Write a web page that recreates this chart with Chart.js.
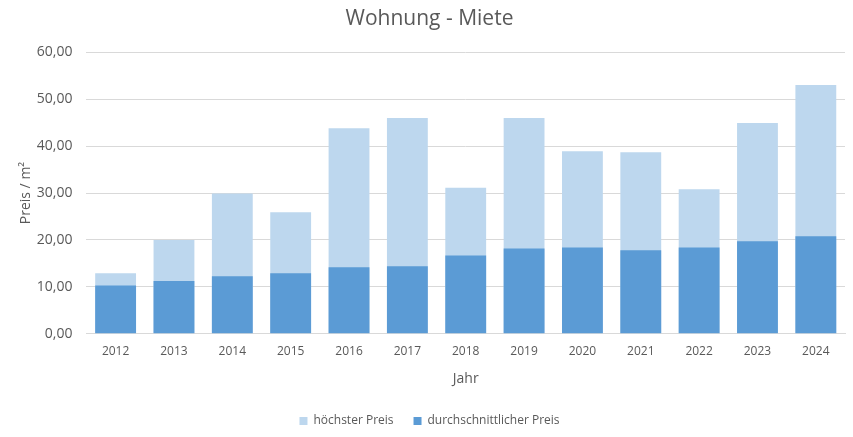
<!DOCTYPE html>
<html>
<head>
<meta charset="utf-8">
<script src="https://cdn.jsdelivr.net/npm/chart.js@4"></script>
<style>
  html, body { margin: 0; padding: 0; background: #fff; }
  #wrap { width: 853px; height: 437px; }
</style>
</head>
<body>
<div id="wrap"><canvas id="myChart"></canvas></div>
<script>
const years = ['2012', '2013', '2014', '2015', '2016', '2017', '2018', '2019', '2020', '2021', '2022', '2023', '2024']
const hoechsterPreis = [12.9, 20.0, 29.9, 25.9, 43.8, 46.0, 31.1, 46.0, 38.9, 38.7, 30.8, 44.9, 53.0]
const durchschnittPreis = [10.3, 11.25, 12.24, 12.9, 14.16, 14.4, 16.7, 18.2, 18.4, 17.8, 18.4, 19.7, 20.8]

const textColor = '#595959'
const fontFamily = "'Open Sans', 'Noto Sans', sans-serif"

// avg first so it is drawn over the light bars; legend reversed
const dataConfig = {
  labels: years,
  datasets: [{
    label: 'durchschnittlicher Preis',
    backgroundColor: '#5b9bd5',
    data: durchschnittPreis,
    grouped: false,
    categoryPercentage: 1,
    barPercentage: 0.7
  }, {
    label: 'höchster Preis',
    backgroundColor: '#bdd7ee',
    data: hoechsterPreis,
    grouped: false,
    categoryPercentage: 1,
    barPercentage: 0.7
  }]
}

const config = {
  type: 'bar',
  data: dataConfig,
  options: {
    responsive: true,
    maintainAspectRatio: false,
    animation: false,
    layout: { padding: { left: 14, right: 8, top: 4, bottom: 0 } },
    plugins: {
      tooltip: { enabled: false },
      title: {
        display: true,
        text: 'Wohnung - Miete',
        color: textColor,
        font: { family: fontFamily, size: 21, weight: 'normal' },
        padding: { top: 2, bottom: 21 }
      },
      legend: {
        position: 'bottom',
        reverse: true,
        labels: {
          color: textColor,
          font: { family: fontFamily, size: 12 },
          boxWidth: 8,
          boxHeight: 8,
          padding: 20
        }
      }
    },
    scales: {
      x: {
        grid: { display: false },
        border: { color: '#d9d9d9' },
        ticks: { color: textColor, font: { family: fontFamily, size: 12 } },
        title: {
          display: true,
          text: 'Jahr',
          color: textColor,
          font: { family: fontFamily, size: 14 },
          padding: { top: 8, bottom: 8 }
        }
      },
      y: {
        min: 0,
        max: 60,
        grid: { color: '#d9d9d9', drawTicks: false, tickLength: 0 },
        border: { display: false },
        ticks: {
          stepSize: 10,
          color: textColor,
          font: { family: fontFamily, size: 14 },
          padding: 14,
          callback: (v) => v.toFixed(2).replace('.', ',')
        },
        title: {
          display: true,
          text: 'Preis / m²',
          color: textColor,
          font: { family: fontFamily, size: 14 },
          padding: { top: 4, bottom: -12 }
        }
      }
    }
  }
}

const myChart = new Chart(document.getElementById('myChart'), config)
</script>
</body>
</html>
